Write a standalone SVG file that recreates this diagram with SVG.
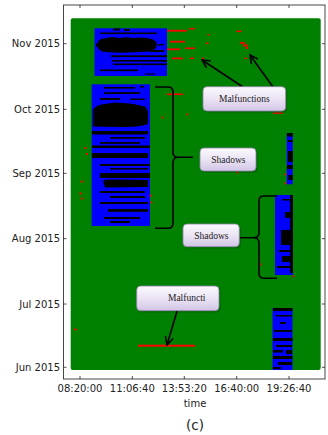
<svg xmlns="http://www.w3.org/2000/svg" width="328" height="435" viewBox="0 0 328 435">
<defs>
<linearGradient id="boxg" x1="0" y1="0" x2="0" y2="1">
<stop offset="0" stop-color="#fbf9fd"/>
<stop offset="0.5" stop-color="#ebe4f4"/>
<stop offset="1" stop-color="#d2c5e6"/>
</linearGradient>
<marker id="vhead" markerWidth="10" markerHeight="10" refX="9" refY="5" orient="auto" markerUnits="userSpaceOnUse">
<polyline points="1,1 9,5 1,9" fill="none" stroke="#000" stroke-width="1.6"/>
</marker>
</defs>
<style>
.ax{font-family:"DejaVu Sans",sans-serif;font-size:10px;fill:#222}
.yl{text-anchor:end}
.xl{text-anchor:middle}
.tick{stroke:#222;stroke-width:0.8}
.bl{fill:#0000ff}
.bk{fill:#000}
.rd{fill:#ff0000}
.box{fill:url(#boxg);stroke:#8f82a8;stroke-width:0.8}
.shadow{fill:#000;opacity:0.18}
.lbl{font-family:"Liberation Serif",serif;font-size:9.5px;fill:#222;text-anchor:middle}
.con{fill:none;stroke:#000;stroke-width:1.6}
</style>
<rect width="328" height="435" fill="#fff"/>
<!-- axes frame -->
<rect x="63.5" y="5" width="261.5" height="374" fill="#fff" stroke="#333" stroke-width="0.9"/>
<!-- plot area -->
<rect x="70.7" y="18.3" width="250" height="351.7" rx="2" fill="#008000"/>
<!-- top-left block -->
<rect class="bl" x="94.5" y="28.3" width="72.5" height="47.7"/>
<g class="bk">
<rect x="113" y="28.5" width="7" height="2"/>
<rect x="124" y="29" width="6" height="1.8"/>
<rect x="100" y="32.5" width="57" height="1.6"/>
<path d="M98,44 Q97,39 104,38.5 L112,37 L120,38 Q126,36.5 132,38 L142,37.5 L150,38.5 Q157,40 157,45 Q156,50 150,51.5 L130,52.5 Q110,53 102,51.5 Q96,49 98,44 Z"/>
<rect x="96" y="43.5" width="4" height="3"/>
<rect x="150" y="50" width="14" height="2"/>
<rect x="158" y="44" width="6" height="1.5"/>
<rect x="111" y="55.3" width="56" height="1.8"/>
<rect x="112" y="60" width="55" height="1.6"/>
<rect x="113" y="63.5" width="54" height="1.6"/>
<rect x="100" y="69.5" width="38" height="1.6"/>
<rect x="145" y="73.5" width="10" height="1.2"/>
</g>
<!-- second block -->
<rect class="bl" x="91.7" y="84.3" width="58.3" height="141.7"/>
<g class="bk">
<rect x="104" y="87" width="31" height="1.6"/>
<rect x="140" y="86" width="4" height="1.5"/>
<rect x="104" y="92.2" width="36" height="1.8"/>
<rect x="100" y="98" width="20" height="2"/>
<rect x="130" y="98.5" width="15" height="1.5"/>
<path d="M93,110 Q95,105 105,104 L115,102.5 L130,103.5 Q140,105 146,107 L148,112 L148,124 Q140,127.5 120,127 L93,126.5 Z"/>
<rect x="92" y="131" width="56" height="3.5"/>
<rect x="110" y="137" width="35" height="1.8"/>
<rect x="100" y="142" width="40" height="1.8"/>
<rect x="92" y="145.5" width="58" height="2.5"/>
<rect x="92" y="153" width="56" height="5"/>
<rect x="100" y="164" width="50" height="2"/>
<rect x="110" y="168" width="38" height="1.6"/>
<rect x="100" y="173" width="50" height="5"/>
<path d="M103,181 Q104,179 112,179.5 L148,180 L148,187 L105,187.5 Z"/>
<rect x="100" y="191" width="45" height="2"/>
<rect x="110" y="196" width="35" height="2"/>
<rect x="100" y="202" width="48" height="2"/>
<rect x="108" y="209" width="40" height="2.8"/>
<rect x="104" y="217" width="36" height="2"/>
<rect x="110" y="221" width="20" height="2"/>
</g>
<!-- right strips -->
<rect class="bl" x="286.7" y="133" width="6" height="51.3"/>
<g class="bk">
<rect x="287" y="133" width="5.7" height="3.5"/>
<rect x="288" y="140" width="4.7" height="2"/>
<rect x="288" y="151" width="4.7" height="11"/>
<rect x="287" y="165" width="5.7" height="4"/>
<rect x="288.5" y="175" width="4.2" height="5"/>
</g>
<rect class="bl" x="275" y="195" width="18" height="80"/>
<g class="bk">
<rect x="290" y="195" width="3" height="78"/>
<rect x="282" y="199" width="8" height="1.5"/>
<rect x="285" y="212" width="5" height="6"/>
<rect x="281" y="230" width="11" height="15"/>
<rect x="279" y="250" width="12" height="2"/>
<rect x="282" y="256" width="10" height="6"/>
<rect x="277" y="266" width="15" height="2"/>
</g>
<rect class="bl" x="272.5" y="308" width="20" height="62"/>
<g class="bk">
<rect x="273" y="308" width="19.5" height="3"/>
<rect x="276" y="315" width="16" height="1.5"/>
<rect x="280" y="322" width="6" height="2"/>
<rect x="274" y="330" width="18" height="1.8"/>
<rect x="273" y="338" width="19.5" height="3"/>
<rect x="276" y="345" width="16" height="2"/>
<rect x="273" y="350" width="10" height="2.5"/>
<rect x="286" y="350" width="6" height="4"/>
<rect x="273" y="356" width="19.5" height="3"/>
<rect x="278" y="362" width="14" height="3"/>
<rect x="273" y="367" width="8" height="2"/>
</g>
<!-- red malfunction dots -->
<g class="rd">
<rect x="167" y="29.8" width="20" height="1.8"/>
<rect x="189" y="28" width="6" height="1.5"/>
<rect x="170" y="40.8" width="15" height="1.8"/>
<rect x="167" y="48.4" width="13" height="1.8"/>
<rect x="185" y="47.5" width="10" height="1.6"/>
<rect x="172" y="57.5" width="11" height="1.8"/>
<rect x="190" y="57.5" width="4" height="1.5"/>
<rect x="202" y="57.5" width="2" height="1.5"/>
<rect x="207.5" y="34" width="2" height="1.5"/>
<rect x="206" y="42.5" width="2.5" height="1.5"/>
<rect x="236.5" y="30.5" width="5" height="1.6"/>
<rect x="240" y="42" width="5" height="1.8"/>
<rect x="243" y="44.5" width="5" height="2"/>
<rect x="246" y="47" width="2" height="2"/>
<rect x="244.5" y="57.5" width="2.5" height="1.5"/>
<rect x="167" y="93.5" width="16" height="1.6"/>
<rect x="161.5" y="116.5" width="1.8" height="1.8"/>
<rect x="186.5" y="113.5" width="1.8" height="1.8"/>
<rect x="273" y="112.5" width="10" height="1.3"/>
<rect x="84.5" y="147" width="2" height="2"/>
<rect x="86" y="153" width="2" height="2"/>
<rect x="81" y="180.5" width="2" height="2"/>
<rect x="79.5" y="192.5" width="2" height="2"/>
<rect x="81" y="197.5" width="2" height="2"/>
<rect x="149.5" y="194.5" width="2" height="2"/>
<rect x="150.5" y="201.5" width="1.8" height="1.8"/>
<rect x="236.5" y="171.5" width="1.8" height="1.8"/>
<rect x="284.5" y="173.5" width="1.8" height="1.8"/>
<rect x="284.5" y="182.5" width="1.8" height="1.8"/>
<rect x="259.5" y="263.5" width="1.8" height="1.8"/>
<rect x="292.5" y="275.5" width="1.8" height="1.8"/>
<rect x="74" y="328.5" width="2.5" height="1.8"/>
<rect x="138" y="344.7" width="57" height="2"/>
</g>
<!-- ticks -->
<g class="tick">
<line x1="63.5" y1="43.7" x2="66.5" y2="43.7"/>
<line x1="63.5" y1="109.3" x2="66.5" y2="109.3"/>
<line x1="63.5" y1="173.3" x2="66.5" y2="173.3"/>
<line x1="63.5" y1="238.7" x2="66.5" y2="238.7"/>
<line x1="63.5" y1="304" x2="66.5" y2="304"/>
<line x1="63.5" y1="367.3" x2="66.5" y2="367.3"/>
<line x1="325" y1="43.7" x2="322" y2="43.7"/>
<line x1="325" y1="109.3" x2="322" y2="109.3"/>
<line x1="325" y1="173.3" x2="322" y2="173.3"/>
<line x1="325" y1="238.7" x2="322" y2="238.7"/>
<line x1="325" y1="304" x2="322" y2="304"/>
<line x1="325" y1="367.3" x2="322" y2="367.3"/>
<line x1="80" y1="5" x2="80" y2="8"/>
<line x1="132.3" y1="5" x2="132.3" y2="8"/>
<line x1="184.3" y1="5" x2="184.3" y2="8"/>
<line x1="236.7" y1="5" x2="236.7" y2="8"/>
<line x1="289" y1="5" x2="289" y2="8"/>
<line x1="80" y1="379" x2="80" y2="376"/>
<line x1="132.3" y1="379" x2="132.3" y2="376"/>
<line x1="184.3" y1="379" x2="184.3" y2="376"/>
<line x1="236.7" y1="379" x2="236.7" y2="376"/>
<line x1="289" y1="379" x2="289" y2="376"/>
</g>
<!-- axis labels -->
<g class="ax">
<text class="yl" x="60" y="47.3">Nov 2015</text>
<text class="yl" x="60" y="113">Oct 2015</text>
<text class="yl" x="60" y="177">Sep 2015</text>
<text class="yl" x="60" y="242.4">Aug 2015</text>
<text class="yl" x="60" y="307.7">Jul 2015</text>
<text class="yl" x="60" y="371">Jun 2015</text>
<text class="xl" x="80" y="392">08:20:00</text>
<text class="xl" x="132.3" y="392">11:06:40</text>
<text class="xl" x="184.3" y="392">13:53:20</text>
<text class="xl" x="236.7" y="392">16:40:00</text>
<text class="xl" x="289" y="392">19:26:40</text>
<text class="xl" x="195" y="407">time</text>
<text class="xl" x="195" y="430" style="font-size:13.5px">(c)</text>
</g>
<!-- connectors -->
<g id="connectors">
<line class="con" x1="243" y1="87" x2="202" y2="60" marker-end="url(#vhead)"/>
<line class="con" x1="273" y1="87" x2="250" y2="55" marker-end="url(#vhead)"/>
<line class="con" x1="178.3" y1="307" x2="167" y2="345" marker-end="url(#vhead)"/>
<path class="con" d="M155,87 L168,87 Q173,87 173,92 L173,152 Q173,157.3 178,157.3 L193,157.3 M178,157.3 Q173,157.3 173,163 L173,223 Q173,228.3 168,228.3 L155,228.3"/>
<path class="con" d="M277,196 L264,196 Q259,196 259,201 L259,232.5 Q259,237.7 254,237.7 L239.5,237.7 M254,237.7 Q259,237.7 259,243 L259,273 Q259,278.3 264,278.3 L277,278.3"/>
</g>
<!-- label nodes -->
<g id="malfunctions-top">
<rect class="shadow" x="204.5" y="88.5" width="82.7" height="24.3" rx="4"/>
<rect class="box" x="203" y="86.7" width="82.7" height="24.3" rx="4"/>
<text class="lbl" x="244.3" y="102">Malfunctions</text>
</g>
<g id="shadows-left">
<rect class="shadow" x="201.5" y="149.8" width="56" height="23" rx="4"/>
<rect class="box" x="200" y="148" width="56" height="23" rx="4"/>
<text class="lbl" x="228.3" y="163">Shadows</text>
</g>
<g id="shadows-right">
<rect class="shadow" x="184.5" y="225.8" width="56.3" height="22.7" rx="4"/>
<rect class="box" x="183" y="224" width="56.3" height="22.7" rx="4"/>
<text class="lbl" x="211.3" y="238.8">Shadows</text>
</g>
<g id="malfuncti-bottom">
<rect class="shadow" x="138.2" y="287.8" width="82.3" height="24.7" rx="4"/>
<rect class="box" x="136.7" y="286" width="82.3" height="24.7" rx="4"/>
<text class="lbl" x="186.7" y="301">Malfuncti</text>
</g>
</svg>
